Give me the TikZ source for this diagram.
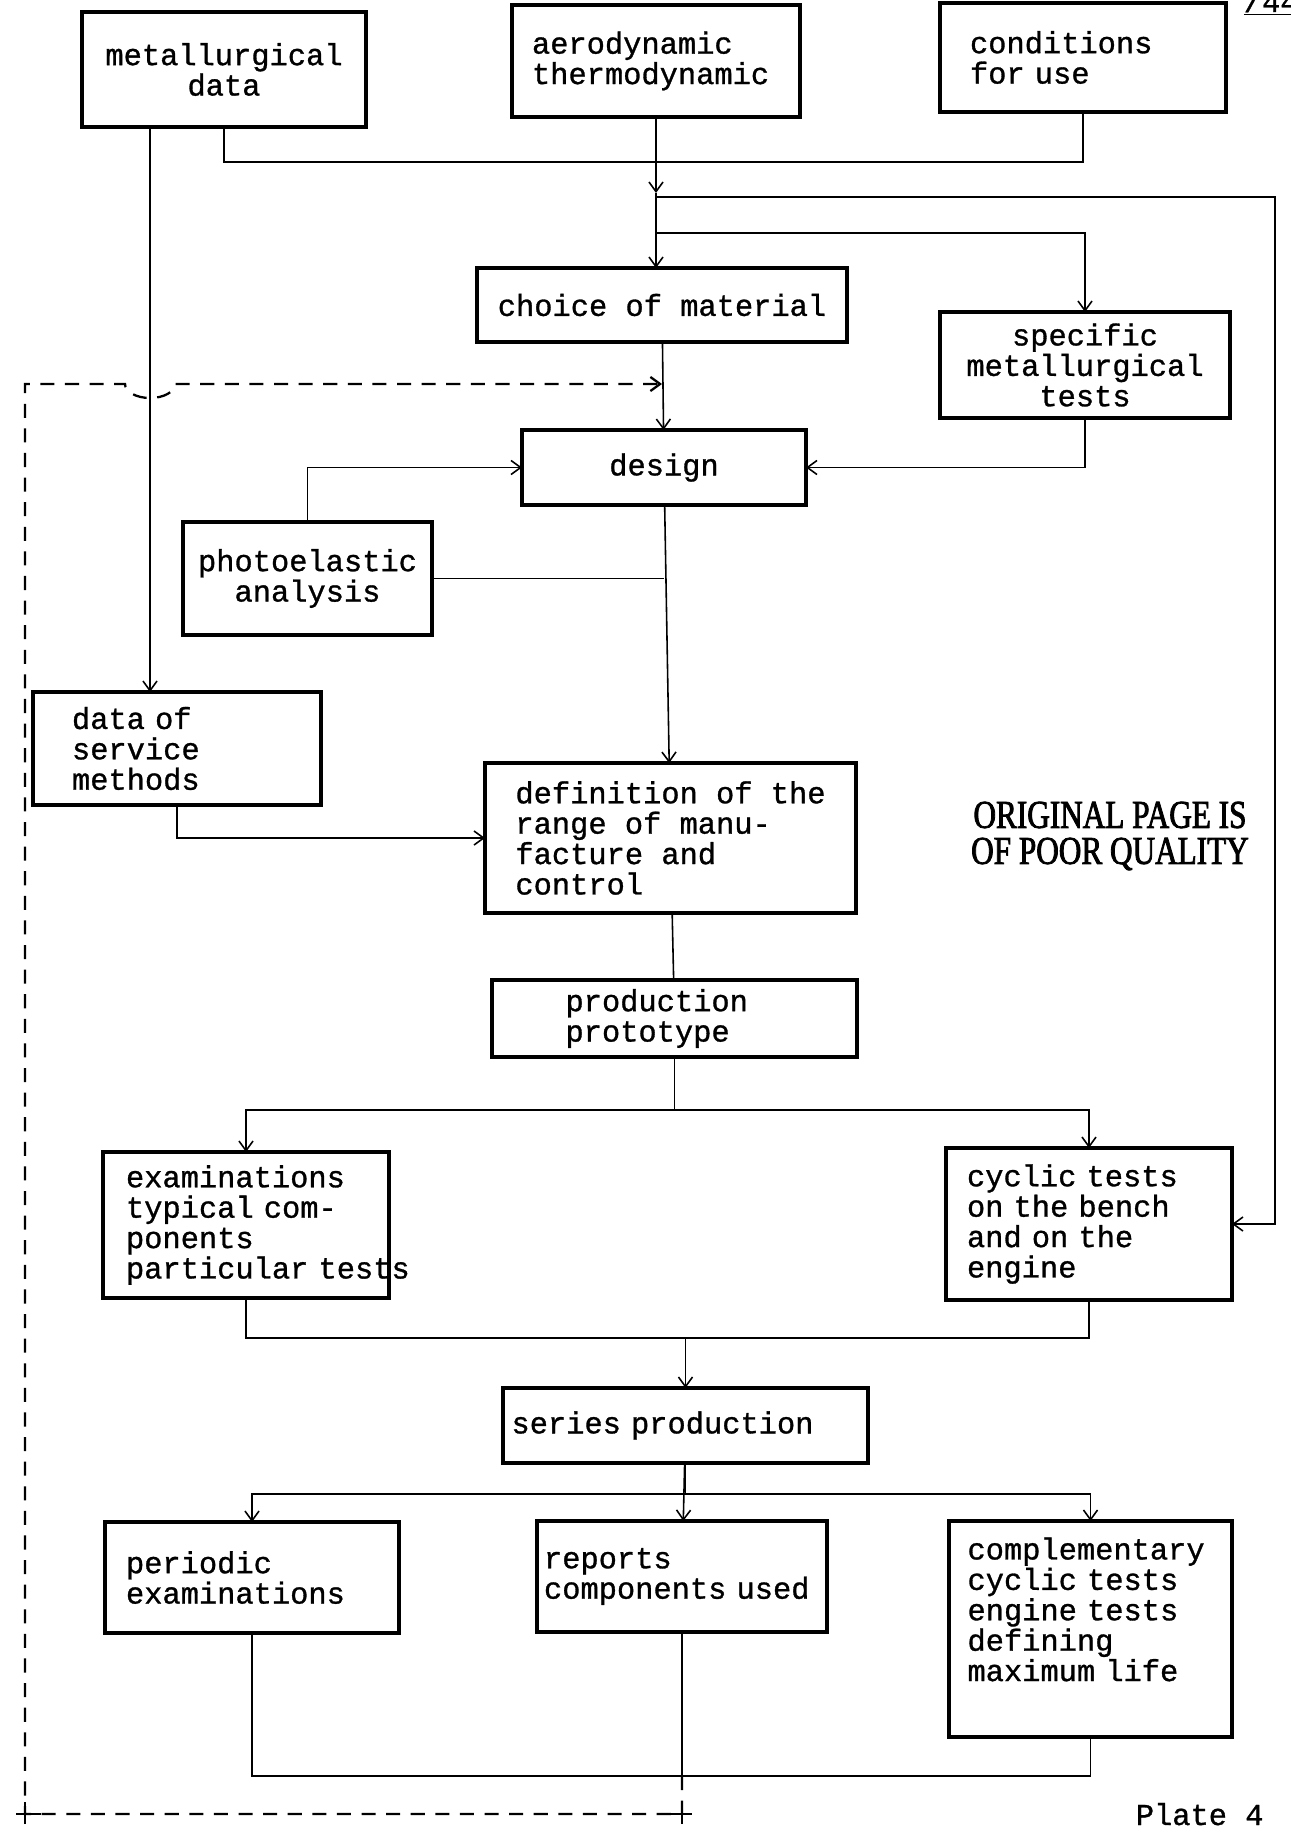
\documentclass[tikz,border=0pt]{standalone}
\usepackage{fontspec}
\setmonofont{Liberation Mono}[FakeBold=1]
\newfontfamily\stampfont[FakeStretch=0.79,FakeBold=2]{Liberation Serif}
\usetikzlibrary{positioning}
\usetikzlibrary{arrows.meta}

\begin{document}
\begin{tikzpicture}[>={Straight Barb[length=5.5pt,width=8pt]}, line width=0.9pt]
    \tikzset{block/.style= {draw, rectangle, line width=1.8pt, align=left, inner sep=0pt, outer sep=0pt, font=\ttfamily\fontsize{17.3}{17.3}\selectfont},
             feedback/.style= {dash pattern=on 8pt off 6pt, line width=1.3pt},}

    \useasboundingbox (0,0) rectangle (25.8,-36.66);

    \node [block, text width=4.96cm, minimum width=5.76cm, minimum height=2.24cm] (aero) at (13.12,-1.22) {aerodynamic\\thermodynamic};
    \node [block, align=center, minimum width=5.68cm, minimum height=2.3cm, left =2.92cm of aero, yshift=-0.17cm] (metdata) {metallurgical\\data};
    \node [block, text width=4.52cm, minimum width=5.72cm, minimum height=2.18cm, right =2.8cm of aero, yshift=0.07cm] (cond) {conditions\\for use};
    \node [block, align=center, minimum width=7.4cm, minimum height=1.48cm, below =3.02cm of aero, xshift=0.12cm] (choice) {choice of material};
    \node [block, align=center, minimum width=5.8cm, minimum height=2.12cm, below =4cm of cond, xshift=0.04cm] (specific) {specific\\metallurgical\\tests};
    \node [block, align=center, minimum width=5.68cm, minimum height=1.5cm, below =1.76cm of choice, xshift=0.04cm] (design) {design};
    \node [block, align=center, minimum width=4.98cm, minimum height=2.26cm, left =1.8cm of design, yshift=-2.22cm] (photo) {photoelastic\\analysis};
    \node [block, text width=4.2cm, minimum width=5.76cm, minimum height=2.26cm, below =11.3cm of metdata, xshift=-0.94cm] (data) {data of\\service\\methods};
    \node [block, minimum width=7.42cm, minimum height=3cm, below =5.16cm of design, xshift=0.13cm] (def) {definition of the\\range of manu-\\facture and\\control};
    \node [block, text width=4.36cm, minimum width=7.3cm, minimum height=1.54cm, below =1.34cm of def, xshift=0.08cm] (prod) {production\\prototype};
    \node [block, text width=4.8cm, minimum width=5.72cm, minimum height=2.92cm, below =6.94cm of data, xshift=1.38cm] (exam) {examinations\\typical com-\\ponents\\particular~tests};
    \node [block, text width=4.88cm, minimum width=5.72cm, minimum height=3.04cm, right =11.14cm of exam, yshift=0.02cm] (cyclic) {cyclic tests\\on the bench\\and on the\\engine};
    \node [block, text width=6.96cm, minimum width=7.3cm, minimum height=1.5cm, below =6.62cm of prod, xshift=0.22cm] (series) {series production};
    \node [block, text width=5.52cm, minimum width=5.8cm, minimum height=2.22cm, below =1.16cm of series, xshift=-0.07cm] (reports) {reports\\components used};
    \node [block, text width=5.04cm, minimum width=5.88cm, minimum height=2.22cm, left =2.76cm of reports, yshift=-0.02cm] (periodic) {periodic\\examinations};
    \node [block, text width=4.92cm, minimum width=5.66cm, minimum height=4.32cm, right =2.44cm of reports.north east, anchor=north west] (compl) {complementary\\cyclic tests\\engine tests\\defining\\maximum life\\\strut};

    \node [font=\stampfont\fontsize{22.5}{20.5}\selectfont, align=center] (stamp) at (22.2,-16.72) {ORIGINAL PAGE IS\\OF POOR QUALITY};
    \node [font=\ttfamily\fontsize{17.3}{17.3}\selectfont, anchor=base west, inner sep=0pt] (plate) at (22.7,-36.5) {Plate 4};
    \node [font=\ttfamily\fontsize{17.3}{17.3}\selectfont, anchor=base west, inner sep=0pt] (pagenum) at (24.86,-0.24) {\underline{/44}};

    % bars and corners of the connectors
    \coordinate (topbar) at (13,-3.24);
    \coordinate (arr1) at (13,-3.86);
    \coordinate (br1) at (13,-3.94);
    \coordinate (br2) at (13,-4.66);
    \coordinate (rx) at (25.5,-4);
    \coordinate (lx) at (3.0,-4);
    \coordinate (bar2) at (13.5,-22.2);
    \coordinate (bar3) at (13.5,-26.76);
    \coordinate (bar4) at (13.5,-29.88);
    \coordinate (bar5) at (13.5,-35.52);
    \coordinate (fb) at (0.5,-36.28);
    \coordinate (ft) at (0.5,-7.68);
    \coordinate (bump) at (2.5,-7.68);

    \draw (metdata.south) |- (cond.south |- topbar) -- (cond.south);
    \draw[->] (aero.south) -- (aero.south |- arr1);
    \draw[->] (aero.south |- arr1) -- (aero.south |- choice.north);
    \draw[->] (aero.south |- br1) -| (rx) |- (cyclic.east);
    \draw[->] (aero.south |- br2) -| (specific.north);
    \draw[->] (specific.south) |- (design.east);
    \draw[->] (photo.north) |- (design.west);
    \draw (photo.east) -- (photo.east -| design.south);
    \draw[->] (metdata.south -| lx) -- (data.north -| lx);
    \draw[->] (data.south) |- (def.west);

    \path[draw,->]
                (choice) edge (design)
                (design) edge (def)
                (series) edge (reports)
                ;
    \path[draw] (def) edge (prod);

    \draw (prod.south) -- (prod.south |- bar2);
    \draw[<->] (exam.north) |- (bar2) -| (cyclic.north);
    \draw (exam.south) |- (bar3) -| (cyclic.south);
    \draw[->] (series.north |- bar3) -- (series.north);
    \draw (series.south) -- (series.south |- bar4);
    \draw[<->] (periodic.north) |- (bar4) -| (compl.north);
    \draw (periodic.south) |- (bar5) -| (compl.south);
    \draw (reports.south) -- (reports.south |- bar5);

    % dashed return loop
    \draw[feedback,->] (reports.south |- bar5) -- (reports.south |- fb) -- (fb) -- (ft) -- (bump)
                arc[start angle=180, end angle=360, x radius=0.5cm, y radius=0.28cm] -- (choice.south |- ft);
    \draw[line width=1.4pt] (fb) ++(-0.18,0) -- ++(0.5,0) (fb) ++(0,-0.2) -- ++(0,0.45);
    \draw[line width=1.4pt] (reports.south |- fb) ++(-0.3,0) -- ++(0.5,0) (reports.south |- fb) ++(0,-0.2) -- ++(0,0.4);
\end{tikzpicture}
\end{document}
